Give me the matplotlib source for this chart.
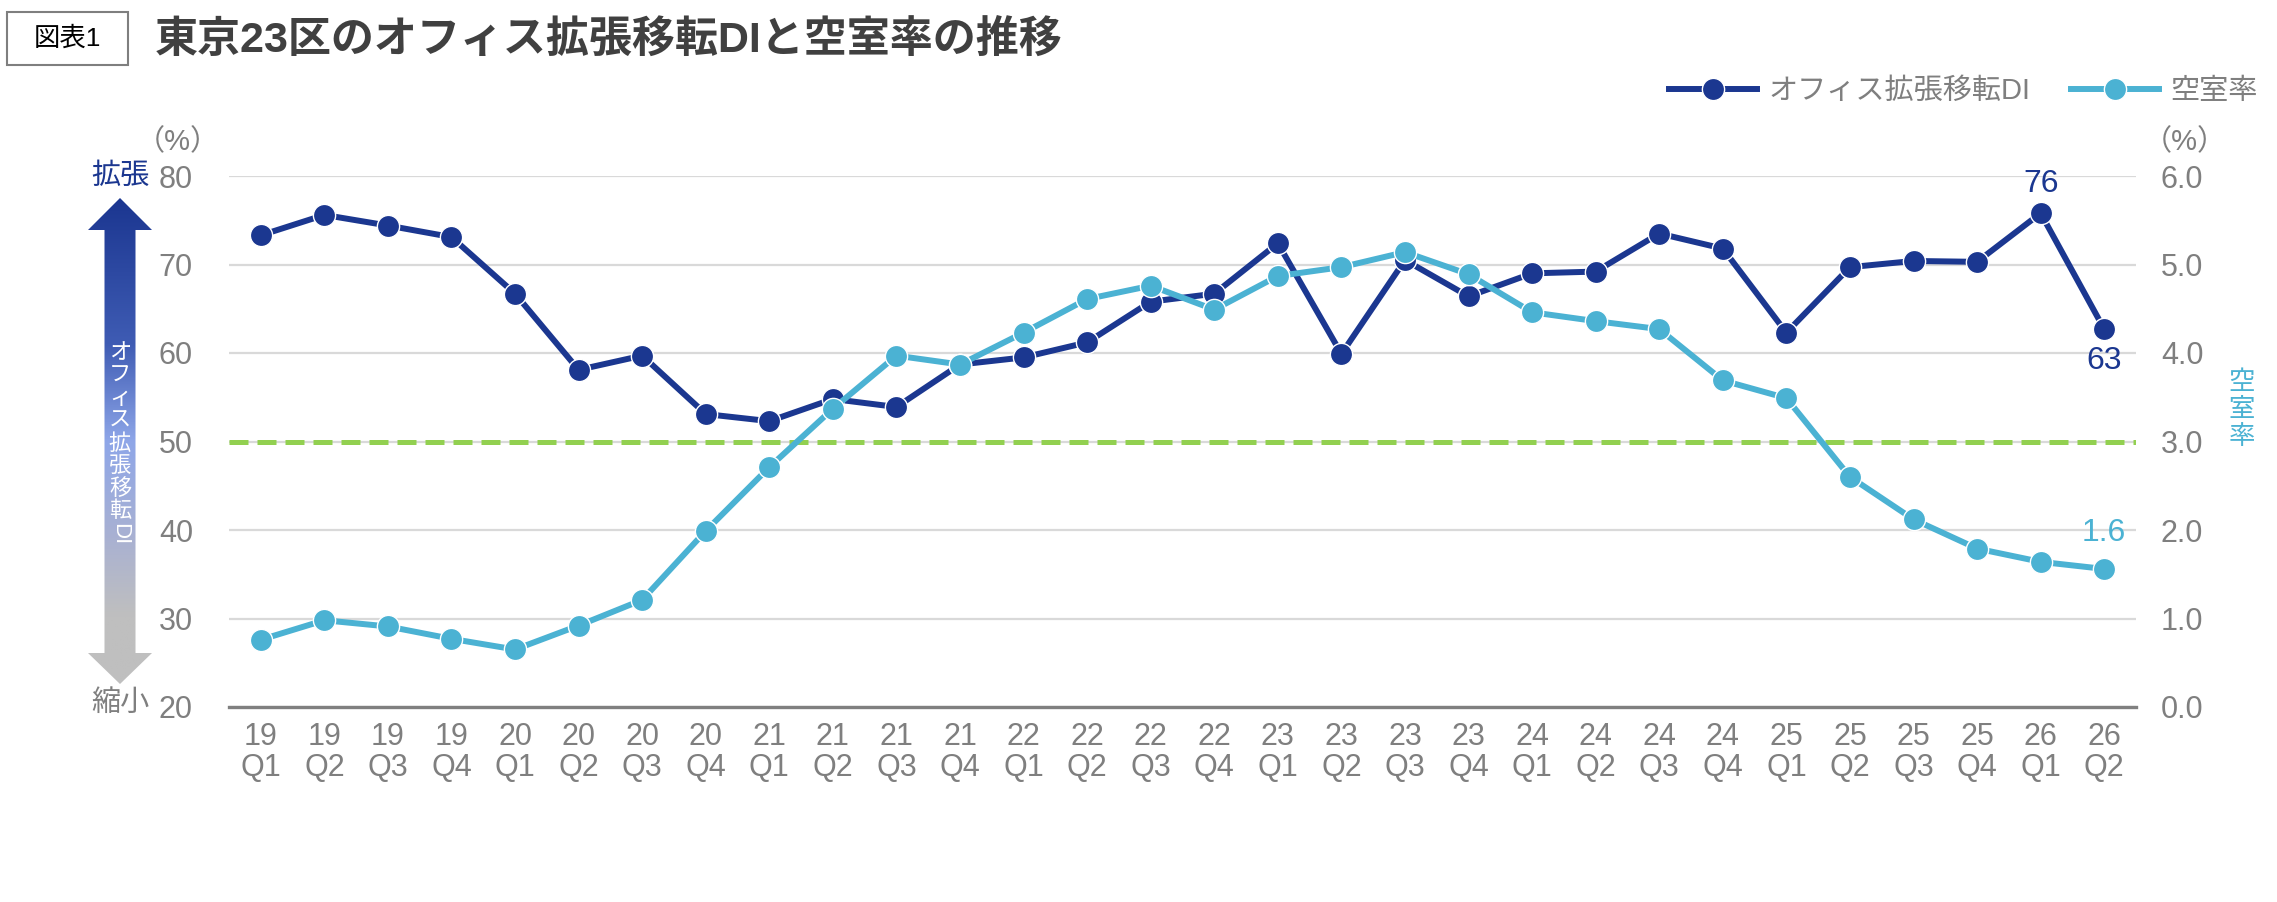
import numpy as np
import matplotlib
matplotlib.use("Agg")
import matplotlib.pyplot as plt
from matplotlib.patches import Polygon, Rectangle
from matplotlib.colors import LinearSegmentedColormap
from matplotlib.lines import Line2D

plt.rcParams['font.family'] = ['Liberation Sans', 'Noto Sans CJK JP', 'DejaVu Sans']

# データ
years = ["19"] * 4 + ["20"] * 4 + ["21"] * 4 + ["22"] * 4 + ["23"] * 4 + ["24"] * 4 + ["25"] * 4 + ["26"] * 2
quarters = ["Q1", "Q2", "Q3", "Q4"] * 7 + ["Q1", "Q2"]
di = [73.3, 75.6, 74.4, 73.1, 66.7, 58.1, 59.7, 53.1, 52.3, 54.8,
      53.9, 58.7, 59.5, 61.2, 65.8, 66.7, 72.4, 59.9, 70.5, 66.4,
      69.0, 69.2, 73.5, 71.8, 62.3, 69.7, 70.4, 70.3, 75.8, 62.7]
vacancy = [0.76, 0.98, 0.91, 0.77, 0.65, 0.92, 1.21, 1.99, 2.71, 3.37,
           3.97, 3.87, 4.23, 4.61, 4.76, 4.49, 4.87, 4.97, 5.14, 4.89,
           4.46, 4.36, 4.27, 3.69, 3.49, 2.60, 2.12, 1.79, 1.64, 1.56]
threshold = 50

c_di = "#1b3790"
c_vac = "#4bb2d3"
c_grey = "#7f7f7f"

W, H = 2277, 902
fig = plt.figure(figsize=(W / 100, H / 100), dpi=100)

# 背景用 (ピクセル座標)
bg = fig.add_axes([0, 0, 1, 1])
bg.set_zorder(0)
bg.axis("off")

ax = fig.add_axes([229 / W, 1 - 707 / H, (2136 - 229) / W, (707 - 176) / H])
ax.set_zorder(2)
ax.patch.set_visible(False)
x = np.arange(len(di))
labels = [f"{y}\n{q}" for y, q in zip(years, quarters)]

ax.set_xlim(-0.5, len(di) - 0.5)
ax.set_ylim(20, 80)
ax.set_yticks(range(20, 81, 10))
ax.set_xticks(x)
ax.set_xticklabels(labels, fontsize=22, color=c_grey, linespacing=1.05)
ax.tick_params(axis="x", length=0, pad=11)
ax.tick_params(axis="y", length=0, pad=26, labelsize=22, labelcolor=c_grey)
ax.yaxis.grid(True, color="#d9d9d9", lw=1.6)
ax.set_axisbelow(True)
for s in ["top", "left", "right"]:
    ax.spines[s].set_visible(False)
ax.spines["bottom"].set_color("#808080")
ax.spines["bottom"].set_linewidth(2.4)

ax.axhline(threshold, color="#92d050", lw=3.6, dashes=(3.8, 1.8), zorder=1)
ax.plot(x, di, color=c_di, lw=4.3, marker="o", markersize=16,
        markeredgecolor="white", markeredgewidth=1, zorder=3)

ax2 = ax.twinx()
ax2.set_zorder(3)
ax2.set_ylim(0, 6)
ax2.set_yticks(range(0, 7))
ax2.set_yticklabels([f"{v:.1f}" for v in range(0, 7)])
ax2.tick_params(axis="y", length=0, pad=18, labelsize=22, labelcolor=c_grey)
for s in ax2.spines.values():
    s.set_visible(False)
ax2.plot(x, vacancy, color=c_vac, lw=4.3, marker="o", markersize=16,
         markeredgecolor="white", markeredgewidth=1, zorder=3)

# 最新値ラベル
ax.annotate(f"{round(di[-2])}", (x[-2], di[-2]), xytext=(0, 21), textcoords="offset points",
            ha="center", va="center", fontsize=23, color=c_di)
ax.annotate(f"{round(di[-1])}", (x[-1], di[-1]), xytext=(0, -23), textcoords="offset points",
            ha="center", va="center", fontsize=23, color=c_di)
ax2.annotate(f"{vacancy[-1]:.1f}", (x[-1], vacancy[-1]), xytext=(0, 26), textcoords="offset points",
             ha="center", va="center", fontsize=23, color=c_vac)

# タイトル
bg.add_patch(Rectangle((7, 12), 121, 53, fill=False, edgecolor=c_grey, lw=1.5))
bg.text(67, 39, "図表1", ha="center", va="center", fontsize=19, color="black")
bg.text(155, 40, "東京23区のオフィス拡張移転DIと空室率の推移", ha="left", va="center",
        fontsize=31, fontweight="bold", color="#404040")

# 凡例
handles = [Line2D([], [], color=c_di, lw=4.3, marker="o", markersize=16, markeredgecolor="white"),
           Line2D([], [], color=c_vac, lw=4.3, marker="o", markersize=16, markeredgecolor="white")]
leg = fig.legend(handles, ["オフィス拡張移転DI", "空室率"], loc="center right",
                 bbox_to_anchor=(1.003, 1 - 91 / H), ncol=2, frameon=False, fontsize=21,
                 handlelength=3.0, handletextpad=0.4, columnspacing=1.4)
for t in leg.get_texts():
    t.set_color(c_grey)

# 単位
bg.text(178, 142, "（%）", ha="center", va="center", fontsize=21, color=c_grey)
bg.text(2185, 142, "（%）", ha="center", va="center", fontsize=21, color=c_grey)

# 右軸ラベル (縦書き)
for i, ch in enumerate("空室率"):
    bg.text(2242, 383 + i * 27, ch, ha="center", va="center", fontsize=19, color=c_vac)

# 左の矢印
cx, sw, hw, top, hb, bb, bot = 120, 15.5, 32, 198, 230, 653, 684
pts = [(cx, top), (cx + hw, hb), (cx + sw, hb), (cx + sw, bb), (cx + hw, bb), (cx, bot),
       (cx - hw, bb), (cx - sw, bb), (cx - sw, hb), (cx - hw, hb)]
arrow = Polygon(pts, closed=True, facecolor="none", edgecolor="none")
bg.add_patch(arrow)
cmap = LinearSegmentedColormap.from_list("arr", [(0, "#1b3690"), (0.3, "#3f5cb4"), (0.5, "#8ea6e8"),
                                                 (0.7, "#a9b1d2"), (0.86, "#bfbfbf"), (1, "#bfbfbf")])
grad = np.linspace(0, 1, 256).reshape(-1, 1)
im = bg.imshow(grad, cmap=cmap, extent=[cx - hw, cx + hw, bot, top], aspect="auto", origin="upper")
im.set_clip_path(arrow)
bg.set_xlim(0, W)
bg.set_ylim(H, 0)

for i, ch in enumerate("オフィス拡張移転"):
    bg.text(cx, 354 + i * 22.5, ch, ha="center", va="center", fontsize=16, color="white")
bg.text(cx, 534, "DI", ha="center", va="center", fontsize=16, color="white", rotation=-90)

bg.text(cx, 176, "拡張", ha="center", va="center", fontsize=21, color=c_di)
bg.text(cx, 703, "縮小", ha="center", va="center", fontsize=21, color=c_grey)

fig.savefig("out.png", dpi=100)
